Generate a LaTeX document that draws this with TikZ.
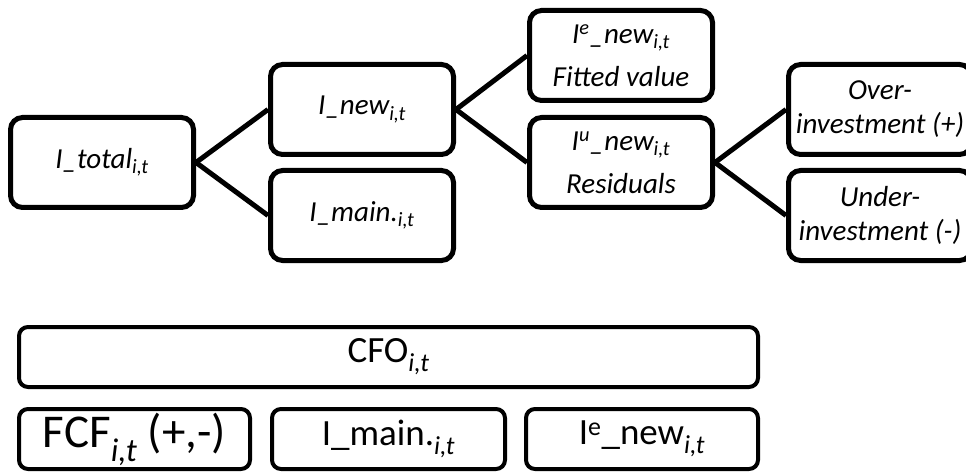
\documentclass[tikz,border=0pt]{standalone}
\usepackage{fontspec}
\setmainfont{Carlito}
\usetikzlibrary{calc}
\tikzset{>=latex}
\tikzset{
  topbox/.style={draw, line width=5pt, rounded corners=12pt, minimum width=183pt, minimum height=90pt, inner sep=0pt, align=center, font=\fontsize{29}{34}\selectfont\itshape},
  cashbox/.style={draw, line width=4pt, rounded corners=9pt, minimum height=60pt, inner sep=0pt, font=\fontsize{37}{44}\selectfont},
  branch/.style={line width=5pt}
}

\begin{document}
\begin{tikzpicture}[x=1pt, y=-1pt]
\useasboundingbox (0,0) rectangle (966,473);
% investment tree
\node[topbox] (total) at (102, 162.5) {I\_total\textsubscript{i,t}};
\node[topbox] (new) at (362, 109.5) {I\_new\textsubscript{i,t}};
\node[topbox] (main) at (362, 215.5) {I\_main.\textsubscript{i,t}};
\node[topbox] (fitted) at (621, 55.5) {I\textsuperscript{e}\_new\textsubscript{i,t}\\[9pt]Fitted value};
\node[topbox] (resid) at (621, 162.5) {I\textsuperscript{u}\_new\textsubscript{i,t}\\[9pt]Residuals};
\node[topbox] (over) at (880, 109.5) {Over-\\investment (+)};
\node[topbox] (under) at (880, 215.5) {Under-\\investment (-)};
\draw[branch] (total.east) -- (new.west);
\draw[branch] (total.east) -- (main.west);
\draw[branch] (new.east) -- (fitted.west);
\draw[branch] (new.east) -- (resid.west);
\draw[branch] (resid.east) -- (over.west);
\draw[branch] (resid.east) -- (under.west);
% cash flow split
\node[cashbox, minimum width=739pt] (cfo) at (388.5, 357) {CFO\textsubscript{\textit{i,t}}};
\node[cashbox, minimum width=231pt, font=\fontsize{47}{56}\selectfont] (fcf) at (134.5, 439) {FCF\textsubscript{\textit{i,t}} (+,-)};
\node[cashbox, minimum width=233pt] (imain) at (388.5, 439) {I\_main.\textsubscript{\textit{i,t}}};
\node[cashbox, minimum width=232pt] (ienew) at (642, 439) {I\textsuperscript{e}\_new\textsubscript{\textit{i,t}}};
\end{tikzpicture}
\end{document}
